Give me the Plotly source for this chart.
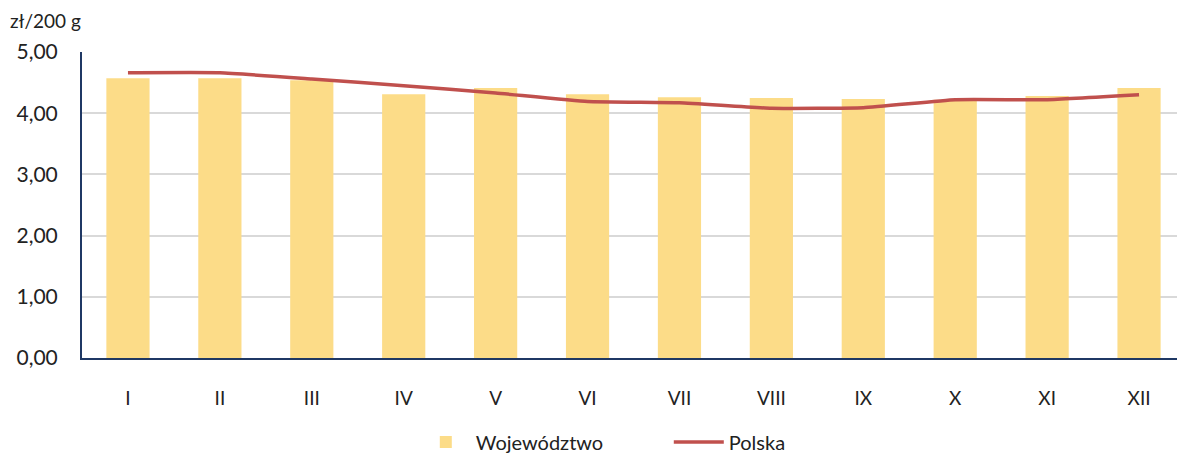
import plotly.graph_objects as go

months = ["I", "II", "III", "IV", "V", "VI", "VII", "VIII", "IX", "X", "XI", "XII"]
wojewodztwo = [4.57, 4.57, 4.54, 4.31, 4.41, 4.31, 4.26, 4.25, 4.23, 4.22, 4.28, 4.41]
polska = [4.66, 4.66, 4.56, 4.45, 4.33, 4.19, 4.17, 4.08, 4.09, 4.22, 4.22, 4.30]
y_ticks = [0, 1, 2, 3, 4, 5]

font_family = "Lato, Open Sans, Liberation Sans, sans-serif"

fig = go.Figure()
fig.add_trace(go.Bar(
    x=months, y=wojewodztwo, name="Województwo",
    marker=dict(color="#fcdc88", line=dict(width=0)),
))
fig.add_trace(go.Scatter(
    x=months, y=polska, name="Polska", mode="lines",
    line=dict(color="#c0504d", width=3.5, shape="spline", smoothing=0.4),
))

fig.update_layout(
    width=1177, height=448,
    margin=dict(l=74, r=0, t=44, b=98, autoexpand=False),
    plot_bgcolor="white", paper_bgcolor="white",
    separators=", ",
    bargap=0.53,
    font=dict(family=font_family, color="#222222", size=18),
    showlegend=True,
    legend=dict(orientation="h", x=0.532, xanchor="center",
                yref="container", y=0.031, yanchor="middle",
                font=dict(size=20), traceorder="normal",
                itemwidth=50, entrywidth=188),
    annotations=[dict(text="zł/200 g", x=0, xref="paper", xanchor="left", xshift=-74,
                      y=1.0, yref="paper", yanchor="middle", yshift=32,
                      showarrow=False, font=dict(size=19))],
)

fig.update_xaxes(
    showline=True, linecolor="#1f3864", linewidth=2,
    showgrid=False, ticks="", tickfont=dict(size=19),
    ticklabelstandoff=22,
)
fig.update_yaxes(
    range=[0, 5], tickvals=y_ticks, tickformat=".2f",
    showline=True, linecolor="#1f3864", linewidth=2,
    showgrid=True, gridcolor="#d9d9d9", gridwidth=2,
    ticks="", tickfont=dict(size=21), ticklabelstandoff=18,
    zeroline=False,
)

fig.write_html("out.html")
